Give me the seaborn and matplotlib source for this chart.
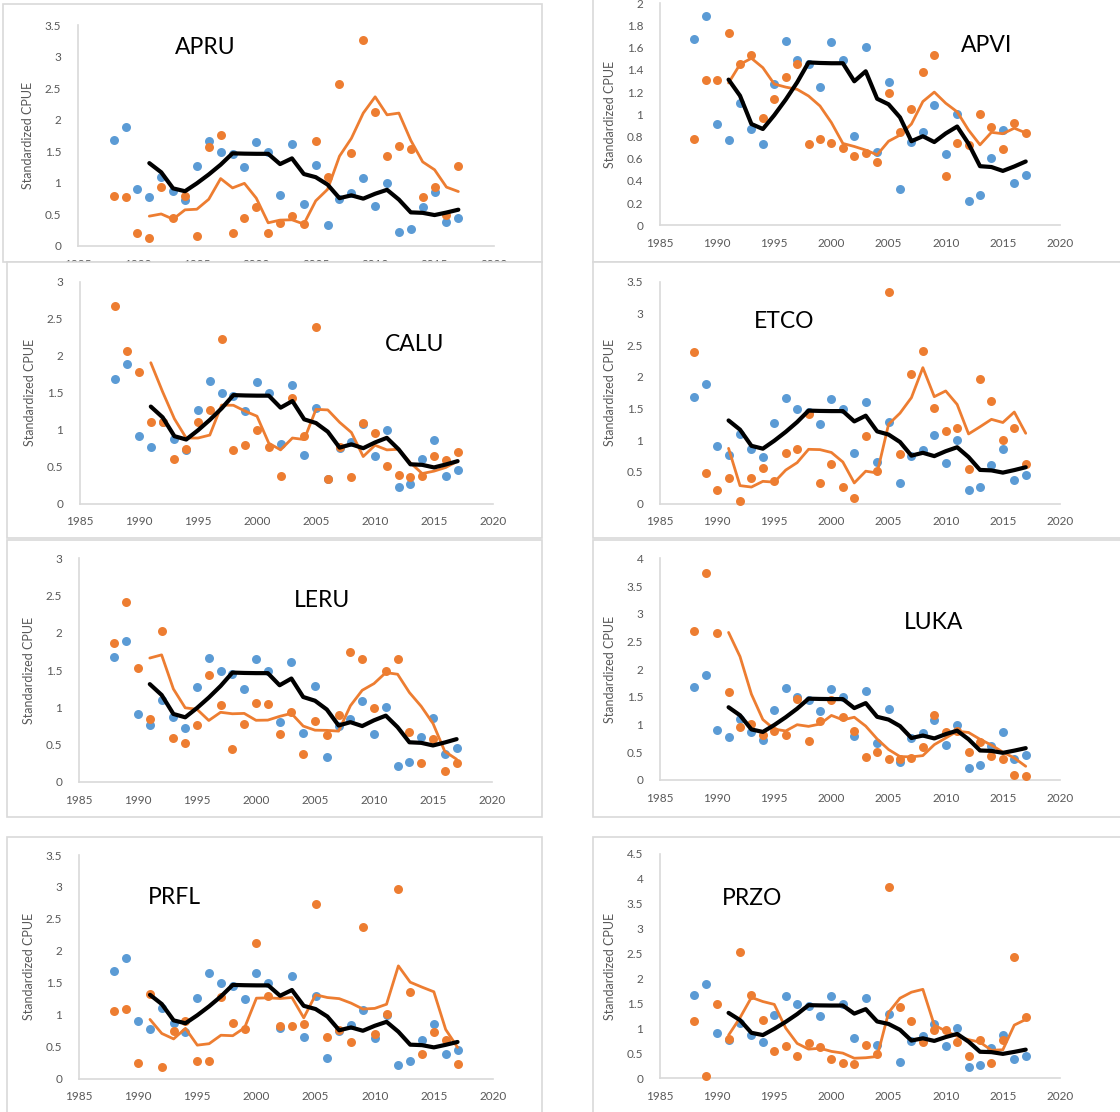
import numpy as np
import pandas as pd
import matplotlib
matplotlib.use("Agg")
import matplotlib.pyplot as plt
import seaborn as sns
from matplotlib.patches import Rectangle
from matplotlib.ticker import FuncFormatter

sns.set_style("white")
plt.rcParams['font.family'] = ['Lato', 'DejaVu Sans']

years = list(range(1988, 2018))

# all-species standardized CPUE (blue dots, black 4-yr moving average)
all_species = [1.68, 1.89, 0.91, 0.77, 1.10, 0.87, 0.73, 1.27, 1.66, 1.49,
               1.45, 1.25, 1.65, 1.49, 0.80, 1.61, 0.66, 1.29, 0.33, 0.75,
               0.84, 1.08, 0.64, 1.00, 0.22, 0.27, 0.61, 0.86, 0.38, 0.45]

apru = [0.79, 0.78, 0.20, 0.12, 0.93, 0.45, 0.79, 0.16, 1.56, 1.76,
        0.20, 0.45, 0.62, 0.20, 0.37, 0.47, 0.35, 1.67, 1.10, 2.57,
        1.48, 3.27, 2.13, 1.43, 1.59, 1.54, 0.77, 0.93, 0.49, 1.26]
apvi = [0.78, 1.31, 1.31, 1.73, 1.45, 1.53, 0.97, 1.14, 1.34, 1.45,
        0.73, 0.78, 0.74, 0.70, 0.62, 0.65, 0.57, 1.19, 0.84, 1.05,
        1.38, 1.53, 0.44, 0.74, 0.72, 1.00, 0.89, 0.69, 0.92, 0.83]
calu = [2.67, 2.06, 1.78, 1.11, 1.10, 0.60, 0.74, 1.11, 1.26, 2.22,
        0.73, 0.79, 0.99, 0.76, 0.37, 1.43, 0.91, 2.39, 0.34, 0.76,
        0.36, 1.09, 0.95, 0.51, 0.39, 0.36, 0.37, 0.64, 0.59, 0.70]
etco = [2.39, 0.49, 0.21, 0.40, 0.04, 0.40, 0.57, 0.35, 0.80, 0.87,
        1.41, 0.33, 0.62, 0.27, 0.09, 1.07, 0.51, 3.34, 0.79, 2.05,
        2.40, 1.51, 1.15, 1.20, 0.54, 1.96, 1.62, 1.00, 1.20, 0.62]
leru = [1.86, 2.42, 1.53, 0.84, 2.03, 0.59, 0.52, 0.76, 1.43, 1.03,
        0.44, 0.78, 1.06, 1.04, 0.64, 0.94, 0.38, 0.82, 0.63, 0.90,
        1.74, 1.65, 0.99, 1.49, 1.65, 0.67, 0.25, 0.57, 0.15, 0.25]
luka = [2.69, 3.73, 2.65, 1.58, 0.95, 1.01, 0.82, 0.89, 0.82, 1.46,
        0.70, 1.06, 1.44, 1.14, 0.89, 0.42, 0.51, 0.38, 0.38, 0.40,
        0.60, 1.17, 0.86, 0.89, 0.51, 0.68, 0.44, 0.38, 0.09, 0.08]
prfl = [1.06, 1.09, 0.24, 1.32, 0.18, 0.75, 0.90, 0.27, 0.27, 1.28,
        0.87, 0.77, 2.12, 1.30, 0.83, 0.83, 0.85, 2.74, 0.66, 0.76,
        0.57, 2.37, 0.70, 1.02, 2.97, 1.35, 0.39, 0.73, 0.61, 0.23]
przo = [1.14, 0.05, 1.49, 0.78, 2.54, 1.68, 1.16, 0.55, 0.64, 0.45,
        0.70, 0.62, 0.39, 0.31, 0.29, 0.66, 0.49, 3.84, 1.44, 1.14,
        0.72, 0.97, 0.96, 0.72, 0.45, 0.77, 0.31, 0.76, 2.43, 1.22]

species_names = ["APRU", "APVI", "CALU", "ETCO", "LERU", "LUKA", "PRFL", "PRZO"]
species_values = [apru, apvi, calu, etco, leru, luka, prfl, przo]
y_max = [3.5, 2.0, 3.0, 3.5, 3.0, 4.0, 3.5, 4.5]
y_step = [0.5, 0.2, 0.5, 0.5, 0.5, 0.5, 0.5, 0.5]
x_ticks = [1985, 1990, 1995, 2000, 2005, 2010, 2015, 2020]
y_label = "Standardized CPUE"

W, H = 1120, 1112
BLUE = "#5B9BD5"
ORANGE = "#ED7D31"
GRAY_TXT = "#595959"
BORDER = "#D9D9D9"

# layout in pixels (axes: x0, x1, ytop, ybottom ; box: x0, y0, x1, y1)
axes_px = [
    (78, 494, 25, 246), (660, 1060, 3.3, 225.3),
    (80, 493, 281.7, 503.7), (660, 1060, 281.7, 503.7),
    (79, 492, 558.3, 782), (660, 1060, 558.3, 780),
    (79, 493, 855, 1078.7), (660, 1060, 854, 1078.3),
]
boxes_px = [
    (3, 4, 542, 262), (593, -5, 1125, 262),
    (7, 262, 542, 538), (593, 262, 1125, 538),
    (7, 540, 542, 817), (593, 540, 1125, 817),
    (7, 837, 542, 1117), (593, 837, 1125, 1117),
]
title_pos = [(0.306, 0.90), (0.817, 0.81), (0.811, 0.715), (0.311, 0.82),
             (0.589, 0.81), (0.683, 0.71), (0.231, 0.81), (0.231, 0.80)]

fig = plt.figure(figsize=(W / 100, H / 100), dpi=100)
fig.patch.set_facecolor("white")

all_ma = pd.Series(all_species).rolling(4).mean()

for i, (name, vals) in enumerate(zip(species_names, species_values)):
    bx0, by0, bx1, by1 = boxes_px[i]
    rect = Rectangle((bx0 / W, 1 - by1 / H), (bx1 - bx0) / W, (by1 - by0) / H,
                     transform=fig.transFigure, facecolor="white",
                     edgecolor=BORDER, linewidth=1.2, zorder=2 * i + 1)
    fig.patches.append(rect)

    ax0, ax1, yt, yb = axes_px[i]
    ax = fig.add_axes([ax0 / W, 1 - yb / H, (ax1 - ax0) / W, (yb - yt) / H])
    ax.set_zorder(2 * i + 2)
    ax.patch.set_alpha(0)

    df = pd.DataFrame({
        "year": years,
        "all": all_species,
        "sp": vals,
        "all_ma": all_ma,
        "sp_ma": pd.Series(vals).rolling(4).mean(),
    })

    sns.scatterplot(data=df, x="year", y="all", ax=ax, color=BLUE, s=42,
                    linewidth=0, zorder=3, clip_on=False)
    sns.scatterplot(data=df, x="year", y="sp", ax=ax, color=ORANGE, s=42,
                    linewidth=0, zorder=4, clip_on=False)
    d2 = df.dropna()
    sns.lineplot(data=d2, x="year", y="sp_ma", ax=ax, color=ORANGE,
                 linewidth=2.0, zorder=5)
    sns.lineplot(data=d2, x="year", y="all_ma", ax=ax, color="black",
                 linewidth=3.0, zorder=6)

    ax.set_xlim(1985, 2020)
    ax.set_ylim(0, y_max[i])
    ax.set_xticks(x_ticks)
    ax.set_yticks(np.round(np.arange(0, y_max[i] + 1e-9, y_step[i]), 2))
    ax.yaxis.set_major_formatter(FuncFormatter(lambda v, p: f"{v:g}"))
    ax.tick_params(axis="both", length=0, labelsize=8.5, labelcolor=GRAY_TXT)
    ax.tick_params(axis="x", pad=9)
    ax.tick_params(axis="y", pad=12)
    for s in ["top", "right"]:
        ax.spines[s].set_visible(False)
    for s in ["left", "bottom"]:
        ax.spines[s].set_color(BORDER)
        ax.spines[s].set_linewidth(1.2)
    ax.set_xlabel("")
    ax.set_ylabel(y_label, fontsize=9, color=GRAY_TXT, labelpad=8)
    ax.grid(False)

    tx, ty = title_pos[i]
    ax.text(tx, ty, name, transform=ax.transAxes, ha="center", va="center",
            fontsize=16.5, color="black")

fig.savefig("out.png", dpi=100, facecolor="white")
